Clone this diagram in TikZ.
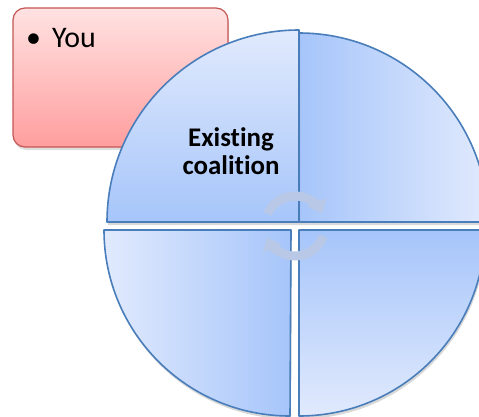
\documentclass[tikz,border=0pt]{standalone}
\usepackage{fontspec}
\setmainfont{Carlito}[Ligatures=NoCommon]
\usepackage{xcolor}
\usepackage{tikz}
\usetikzlibrary{arrows.meta,shadows}
\definecolor{cQuadDark}{RGB}{166,197,250}
\definecolor{cQuadLight}{RGB}{225,234,253}
\definecolor{cQuadLine}{RGB}{74,126,187}
\definecolor{cBoxTop}{RGB}{255,226,226}
\definecolor{cBoxBot}{RGB}{255,158,158}
\definecolor{cBoxLine}{RGB}{196,86,84}
\definecolor{cCycle}{RGB}{184,200,230}

\begin{document}
\begin{tikzpicture}[x=1bp,y=1bp,
  quad/.style={draw=cQuadLine,line width=1.6bp,line join=round,
    drop shadow={shadow xshift=1bp,shadow yshift=-3bp,opacity=.3}},
  cyc/.style={line width=9bp,draw=cCycle,-{Triangle[width=20bp,length=12bp]}}]
\useasboundingbox (0,0) rectangle (479,416);
\clip (0,0) rectangle (479,416);
% box
\draw[rounded corners=12bp,draw=cBoxLine,line width=1.2bp,top color=cBoxTop,bottom color=cBoxBot,
  drop shadow={shadow xshift=1bp,shadow yshift=-3bp,opacity=.25}] (13,269) rectangle (228,408);
\node[anchor=base west,inner sep=0pt,font=\fontsize{30}{32}\selectfont] (you) at (26,369) {\textbullet\hspace{11bp}You};
% quadrants
\path[quad,left color=cQuadDark,right color=cQuadLight] (299,194) -- (299,383) arc[start angle=90,end angle=0,radius=189] -- cycle;
\path[quad,left color=cQuadLight,right color=cQuadDark] (291,186) -- (104,186) arc[start angle=180,end angle=270,radius=186] -- cycle;
\path[quad,top color=cQuadDark,bottom color=cQuadLight] (299,186) -- (299,0) arc[start angle=270,end angle=360,radius=186] -- cycle;
\path[quad,top color=cQuadLight,bottom color=cQuadDark] (299,194) -- (107,194) arc[start angle=180,end angle=90,radius=192] -- cycle;
\node[align=center,font=\bfseries\fontsize{27}{28}\selectfont] (existing) at (231,265) {Existing\\coalition};
% cycle arrows
\coordinate (ctr) at (295,190);
\draw[cyc] ([shift={(156:30)}]ctr) arc[start angle=156,end angle=25,radius=30];
\draw[cyc] ([shift={(-20:30)}]ctr) arc[start angle=-20,end angle=-157,radius=30];
\end{tikzpicture}
\end{document}
